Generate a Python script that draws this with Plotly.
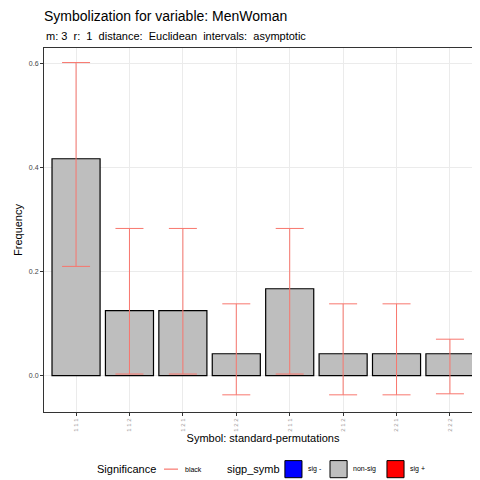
import plotly.graph_objects as go

categories = ["1 1 1", "1 1 2", "1 2 1", "1 2 2", "2 1 1", "2 1 2", "2 2 1", "2 2 2"]
freq = [0.417, 0.125, 0.125, 0.042, 0.167, 0.042, 0.042, 0.042]
upper = [0.602, 0.283, 0.283, 0.138, 0.283, 0.138, 0.138, 0.070]
lower = [0.210, 0.003, 0.003, -0.037, 0.003, -0.037, -0.037, -0.035]

fig = go.Figure()
fig.add_trace(go.Bar(
    x=categories, y=freq, marker=dict(color="#BEBEBE", line=dict(color="black", width=1.2)),
    width=0.9,
    error_y=dict(type="data", symmetric=False,
                 array=[u - f for u, f in zip(upper, freq)],
                 arrayminus=[f - l for f, l in zip(freq, lower)],
                 color="#F8766D", thickness=1, width=14),
    showlegend=False))

fig.update_layout(
    width=480, height=480, paper_bgcolor="white", plot_bgcolor="white",
    margin=dict(l=36, r=6, t=40, b=76),
    font=dict(family="Liberation Sans, Arial", color="black"),
    title=dict(text="Symbolization for variable: MenWoman", xref="container", x=36/480,
               xanchor="left", yref="container", y=1 - 3/480, yanchor="top",
               font=dict(size=14)),
    xaxis=dict(showline=True, mirror=True, linecolor="#333", gridcolor="#EBEBEB",
               range=[-0.6, 7.6],
               tickangle=-90, tickfont=dict(size=6, color="#999"), ticks="outside",
               ticklen=3, tickcolor="#333",
               title=dict(text="Symbol: standard-permutations", font=dict(size=11), standoff=2)),
    yaxis=dict(showline=True, mirror=True, linecolor="#333", gridcolor="#EBEBEB",
               range=[-0.07, 0.63], tickvals=[0, 0.2, 0.4, 0.6],
               ticktext=["0.0", "0.2", "0.4", "0.6"], tickfont=dict(size=7, color="#444"),
               ticks="outside", ticklen=3, tickcolor="#333", zeroline=False,
               title=dict(text="Frequency", font=dict(size=11), standoff=4)),
)
fig.add_annotation(text="m: 3  r:  1  distance:  Euclidean  intervals:  asymptotic",
                   xref="paper", yref="paper", x=0, y=1.012, xanchor="left",
                   yanchor="bottom", showarrow=False, font=dict(size=11))

# legend
ly = -0.157
def txt(x, s, size):
    fig.add_annotation(text=s, xref="paper", yref="paper", x=x, y=ly, xanchor="left",
                       yanchor="middle", showarrow=False, font=dict(size=size),
                       xshift=-2)
txt(0.121, "Significance", 11)
fig.add_shape(type="line", xref="paper", yref="paper", x0=0.274, x1=0.306, y0=ly, y1=ly,
              line=dict(color="#F8766D", width=1.2))
txt(0.322, "black", 7)
txt(0.418, "sigp_symb", 11)
boxes = [(0.550, "blue", "sig -"), (0.653, "#BEBEBE", "non-sig"), (0.783, "red", "sig +")]
for x0, c, s in boxes:
    fig.add_shape(type="rect", xref="paper", yref="paper", x0=x0, x1=x0 + 0.039,
                  y0=ly - 0.0235, y1=ly + 0.0235, fillcolor=c, line=dict(color="black", width=1))
    txt(x0 + 0.053, s, 7)
fig.write_html("out.html")
